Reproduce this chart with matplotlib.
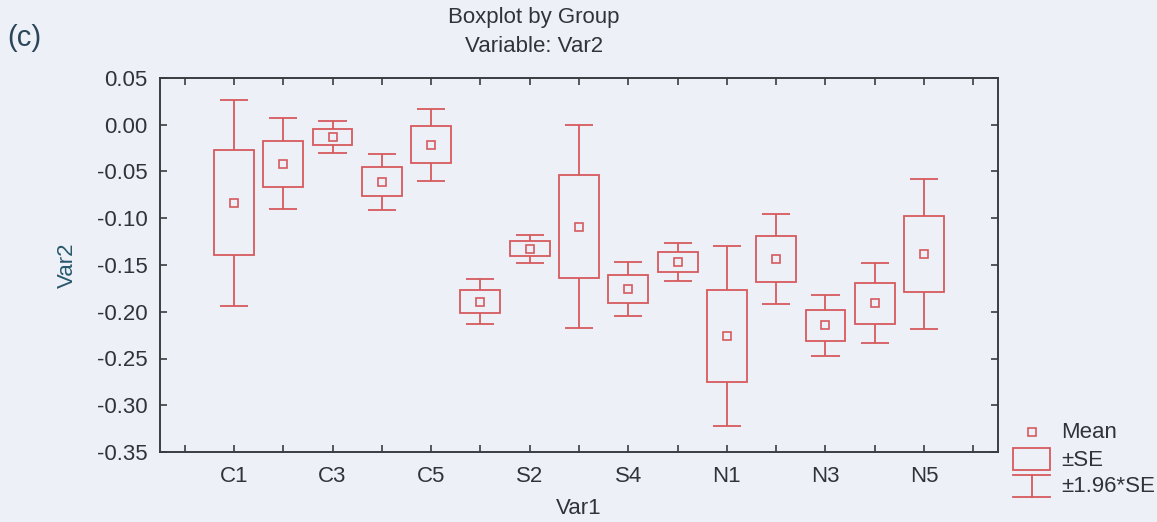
import matplotlib
matplotlib.use("Agg")
import matplotlib.pyplot as plt
from matplotlib.patches import Rectangle
import numpy as np

plt.rcParams["font.family"] = ["Liberation Sans", "DejaVu Sans"]
plt.rcParams["axes.unicode_minus"] = False

# Groups of Var1 and the per-group statistics of Var2
groups = ["C1", "C2", "C3", "C4", "C5",
          "S1", "S2", "S3", "S4", "S5",
          "N1", "N2", "N3", "N4", "N5"]
means = [-0.0835, -0.0417, -0.0133, -0.0608, -0.0214,
         -0.1893, -0.1325, -0.1089, -0.1757, -0.1469,
         -0.2259, -0.1435, -0.2143, -0.1907, -0.1383]
se = [0.0561, 0.0248, 0.0088, 0.0153, 0.0197,
      0.0124, 0.0077, 0.0553, 0.0147, 0.0104,
      0.0490, 0.0245, 0.0167, 0.0219, 0.0410]
ci_factor = 1.96

yticks = [0.05, 0.00, -0.05, -0.10, -0.15, -0.20, -0.25, -0.30, -0.35]
labeled_groups = ["C1", "C3", "C5", "S2", "S4", "N1", "N3", "N5"]

BG = "#eef0f8"
RED = "#d65a5e"
TXT = "#30343a"
AX = "#3a3d40"

W, H = 1157, 522
fig = plt.figure(figsize=(W / 100, H / 100), dpi=100, facecolor=BG)

ax = fig.add_axes([160 / W, 1 - 452 / H, (998 - 160) / W, (452 - 78) / H])
ax.set_facecolor(BG)

m = np.array(means)
s = np.array(se)
x = np.arange(1, len(groups) + 1)
box_w = 0.81
cap_w = 0.57
lw = 1.3

# ±SE boxes
ax.bar(x, 2 * s, bottom=m - s, width=box_w, fill=False,
       edgecolor=RED, linewidth=lw, zorder=3)
# ±1.96*SE whiskers and caps
ax.vlines(x, m + s, m + ci_factor * s, color=RED, linewidth=lw, zorder=3)
ax.vlines(x, m - s, m - ci_factor * s, color=RED, linewidth=lw, zorder=3)
ax.hlines(m + ci_factor * s, x - cap_w / 2, x + cap_w / 2, color=RED, linewidth=lw, zorder=3)
ax.hlines(m - ci_factor * s, x - cap_w / 2, x + cap_w / 2, color=RED, linewidth=lw, zorder=3)
# Means
ax.plot(x, m, linestyle="none", marker="s", markersize=5.5,
        markerfacecolor="none", markeredgecolor=RED, markeredgewidth=1.2, zorder=4)

ax.set_xlim(-0.5, len(groups) + 1.5)
ax.set_ylim(-0.35, 0.05)
ax.set_yticks(yticks)
ax.set_yticklabels([f"{v:.2f}" for v in yticks])

ax.set_xticks(np.arange(0, len(groups) + 2))
ax.set_xticklabels([g if g in labeled_groups else "" for g in [""] + groups + [""]])

for sp in ax.spines.values():
    sp.set_color(AX)
    sp.set_linewidth(1.4)

ax.tick_params(axis="both", direction="in", length=5, width=1.2, color=AX,
               top=True, right=True, labelsize=16, labelcolor=TXT)
ax.tick_params(axis="y", pad=9)
ax.tick_params(axis="x", pad=10)

ax.set_ylabel("Var2", fontsize=16, color="#27586c")
ax.yaxis.set_label_coords(-0.098, 0.5)
ax.set_xlabel("Var1", fontsize=16, color=TXT, va="center")
ax.xaxis.set_label_coords(0.5, -(509 - 452) / (452 - 78))

fig.text(534 / W, 1 - 17 / H, "Boxplot by Group", ha="center", va="center",
         fontsize=16, color=TXT)
fig.text(534 / W, 1 - 46 / H, "Variable: Var2", ha="center", va="center",
         fontsize=16, color=TXT)
fig.text(7 / W, 1 - 38 / H, "(c)", ha="left", va="center",
         fontsize=21, color="#2b4658")

# Legend drawn in pixel coordinates
lg = fig.add_axes([0, 0, 1, 1], facecolor="none")
lg.set_xlim(0, W)
lg.set_ylim(H, 0)
lg.axis("off")
lg.plot([1032], [432], linestyle="none", marker="s", markersize=5.5,
        markerfacecolor="none", markeredgecolor=RED, markeredgewidth=1.2)
lg.add_patch(Rectangle((1013, 448), 37, 22, fill=False, edgecolor=RED, linewidth=lw))
lg.plot([1013, 1050], [475, 475], color=RED, linewidth=lw)
lg.plot([1013, 1050], [497, 497], color=RED, linewidth=lw)
lg.plot([1031.5, 1031.5], [475, 497], color=RED, linewidth=lw)
for ty, t in [(432, "Mean"), (460, "±SE"), (487, "±1.96*SE")]:
    lg.text(1061, ty, t, ha="left", va="center", fontsize=16, color=TXT)

fig.savefig("out.png", dpi=100, facecolor=BG)
